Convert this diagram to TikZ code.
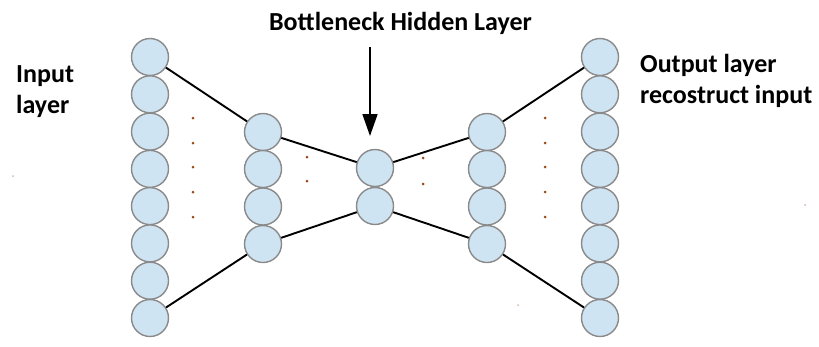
\documentclass[tikz,border=0pt]{standalone}
\usepackage{fontspec}
\setmainfont{Carlito}
\usetikzlibrary{arrows.meta}
\definecolor{nfill}{HTML}{CFE4F3}
\definecolor{nedge}{HTML}{8A8A8A}
\definecolor{dotc}{HTML}{9A4A1A}
\tikzset{
  neuron/.style={circle, draw=nedge, line width=1.4pt, fill=nfill, minimum size=37pt, inner sep=0pt},
  link/.style={line width=1.9pt, black},
  lbl/.style={anchor=base west, font=\bfseries\fontsize{26}{31}\selectfont, inner sep=0pt, align=left},
  dotm/.style={circle, fill=dotc, minimum size=3pt, inner sep=0pt},
  stray/.style={circle, fill=dotc!40, minimum size=2pt, inner sep=0pt}
}
\begin{document}
\begin{tikzpicture}[x=1pt,y=-1pt]
\useasboundingbox (0,0) rectangle (819,346);
% columns
\foreach \i/\y in {1/57,2/94.3,3/131.6,4/168.9,5/206.1,6/243.4,7/280.7,8/318} {
  \node[neuron] (a\i) at (150,\y) {};
  \node[neuron] (e\i) at (600,\y) {};
}
\foreach \i/\y in {1/132,2/169,3/206.5,4/244} {
  \node[neuron] (b\i) at (263,\y) {};
  \node[neuron] (d\i) at (487,\y) {};
}
\node[neuron] (c1) at (375,168) {};
\node[neuron] (c2) at (375,206) {};
% connectors
\draw[link] (a1) -- (b1);
\draw[link] (a8) -- (b4);
\draw[link] (b1) -- (c1);
\draw[link] (b4) -- (c2);
\draw[link] (c1) -- (d1);
\draw[link] (c2) -- (d4);
\draw[link] (d1) -- (e1);
\draw[link] (d4) -- (e8);
% dots
\foreach \y [count=\k] in {118,143,167,192,217} {
  \node[dotm] (p\k) at (193,\y) {};
  \node[dotm] (q\k) at (545,\y) {};
}
\node[dotm] (r1) at (307,157) {};
\node[dotm] (r2) at (307,181) {};
\node[dotm] (s1) at (423,158) {};
\node[dotm] (s2) at (423,184) {};
\node[stray] (t1) at (13,176) {};
\node[stray] (t2) at (518,305) {};
\node[stray] (t3) at (805,205) {};
% labels
\node[lbl] (inl) at (16,113) {Input\\layer};
\node[lbl] (outl) at (640,103) {Output layer\\recostruct input};
\node[lbl, anchor=base] (bl) at (400.5,30) {Bottleneck Hidden Layer};
\coordinate (ast) at (370,47);
\coordinate (aend) at (370,136);
\draw[line width=1.7pt, -{Triangle[width=15pt,length=22pt]}] (ast) -- (aend);
\end{tikzpicture}
\end{document}
